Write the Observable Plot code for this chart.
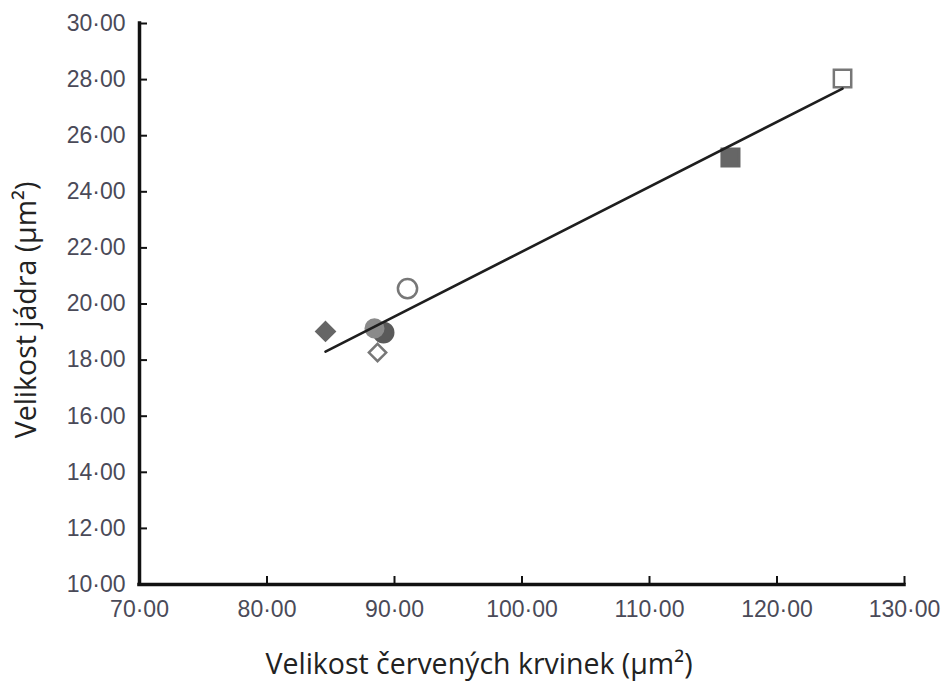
<!DOCTYPE html>
<html>
<head>
<meta charset="utf-8">
<script src="https://cdn.jsdelivr.net/npm/d3@7"></script>
<script src="https://cdn.jsdelivr.net/npm/@observablehq/plot@0.6"></script>
<style>
  html, body { margin: 0; padding: 0; background: #fff; }
  #chart svg { display: block; }
</style>
</head>
<body>
<div id="chart"></div>
<script>
// Data
const groups      = ["A", "B", "C", "D", "E", "F", "G"];
const rbcSize     = [84.59, 88.67, 88.43, 89.14, 91.02, 116.35, 125.14];   // x: Velikost červených krvinek
const nucleusSize = [19.02, 18.27, 19.13, 18.98, 20.55, 25.22, 28.04];     // y: Velikost jádra
const symbols     = ["diamond2", "diamond2", "circle", "circle", "circle", "square", "square"];
const fills       = ["#666666", "white", "#8a8a8a", "#5a5a5a", "white", "#666666", "white"];
const strokes     = ["#666666", "#777777", "#8a8a8a", "#5a5a5a", "#777777", "#666666", "#777777"];
const radii       = [8.2, 7.8, 8.8, 9.7, 9.6, 9.9, 9.8];

const xTicks = [70, 80, 90, 100, 110, 120, 130];
const yTicks = [10, 12, 14, 16, 18, 20, 22, 24, 26, 28, 30];
const xTitle = "Velikost červených krvinek (µm²)";
const yTitle = "Velikost jádra (µm²)";

const data = groups.map((g, i) => ({
  g, x: rbcSize[i], y: nucleusSize[i], symbol: symbols[i],
  fill: fills[i], stroke: strokes[i], r: radii[i]
}));

const W = 942, H = 686;
const mL = 139, mR = 38, mT = 23, mB = 102;
const innerW = W - mL - mR, innerH = H - mT - mB;
const fmt = d => d.toFixed(2).replace(".", "·");
const tickFont = "Liberation Sans, Arial, sans-serif";
const titleFont = "Open Sans, sans-serif";

const chart = Plot.plot({
  width: W,
  height: H,
  marginLeft: mL,
  marginRight: mR,
  marginTop: mT,
  marginBottom: mB,
  style: { background: "white", overflow: "visible" },
  x: { domain: [70, 130] },
  y: { domain: [10, 30] },
  r: { type: "identity" },
  marks: [
    Plot.axisX(xTicks, { tickSize: 0, tickPadding: 16, tickFormat: fmt, label: null,
      fontSize: 23, fontFamily: tickFont, fill: "#4a4a58", letterSpacing: "-1.2px" }),
    Plot.axisY(yTicks, { tickSize: 0, tickPadding: 14, tickFormat: fmt, label: null,
      fontSize: 23, fontFamily: tickFont, fill: "#4a4a58", letterSpacing: "-1.2px" }),
    // inward ticks
    Plot.tickX(xTicks, { x: d => d, insetTop: innerH - 8, stroke: "#111", strokeWidth: 2 }),
    Plot.tickY(yTicks, { y: d => d, insetRight: innerW - 8, stroke: "#111", strokeWidth: 2 }),
    // axis lines
    Plot.ruleX([70], { stroke: "#111", strokeWidth: 3.5, strokeLinecap: "square" }),
    Plot.ruleY([10], { stroke: "#111", strokeWidth: 3.5, strokeLinecap: "square" }),
    // points
    Plot.dot(data, { x: "x", y: "y", symbol: "symbol", r: "r", fill: d => d.fill, stroke: d => d.stroke, strokeWidth: 2.5 }),
    // regression line
    Plot.linearRegressionY(data, { x: "x", y: "y", ci: 0, stroke: "#1e1e1e", strokeWidth: 2.6 }),
    // titles
    Plot.text([xTitle], { frameAnchor: "bottom", dx: -43, dy: 80, lineAnchor: "middle", textAnchor: "middle", text: d => d,
      fontSize: 28.5, fontFamily: titleFont, fill: "#222", letterSpacing: "1.1px" }),
    Plot.text([yTitle], { frameAnchor: "left", dx: -113, dy: 6, rotate: -90, lineAnchor: "middle", textAnchor: "middle", text: d => d,
      fontSize: 28.5, fontFamily: titleFont, fill: "#222", letterSpacing: "1.1px" })
  ]
});
document.getElementById("chart").appendChild(chart);
</script>
</body>
</html>
